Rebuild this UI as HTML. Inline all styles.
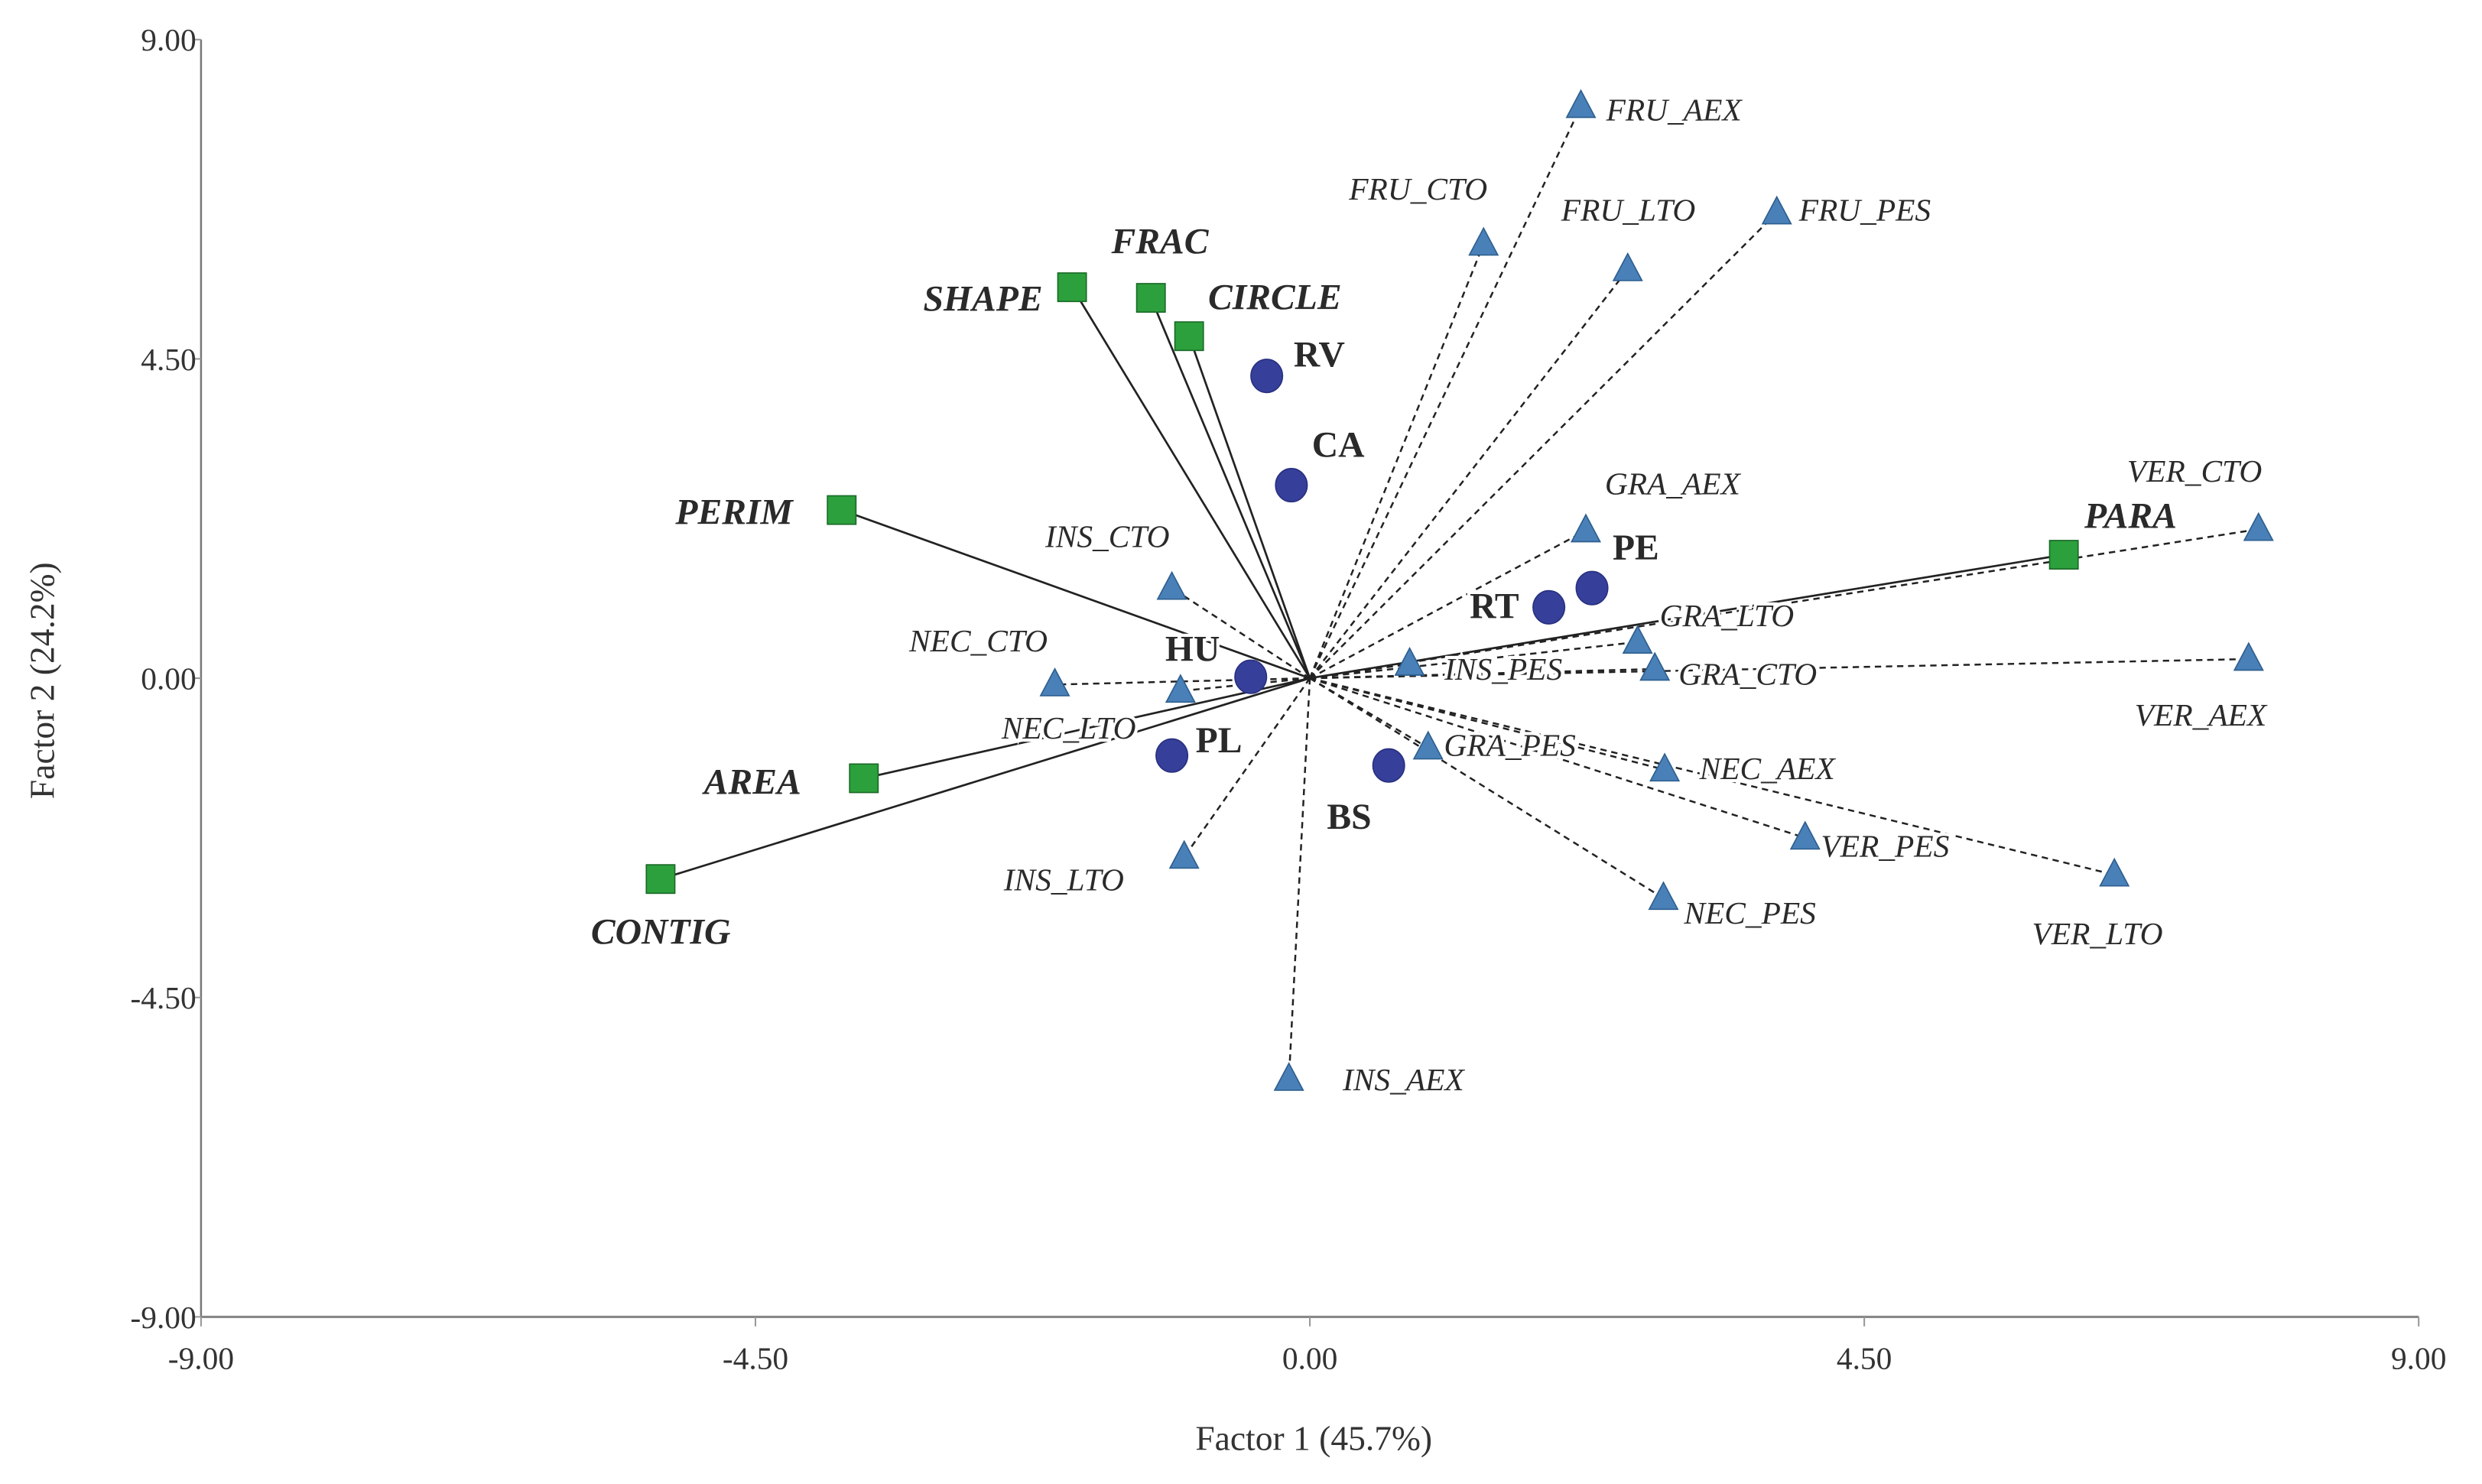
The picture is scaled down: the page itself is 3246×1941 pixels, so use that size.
<!DOCTYPE html>
<html><head><meta charset="utf-8"><title>Factor biplot</title>
<style>
html,body{margin:0;padding:0;background:#fff;}
svg{display:block;}
text{font-family:"Liberation Serif","DejaVu Serif",serif;}
</style></head>
<body>
<svg id="chart" width="3246" height="1941" viewBox="0 0 1568 937.6" preserveAspectRatio="none" xmlns="http://www.w3.org/2000/svg">
<g id="axes"></g>
<g id="lines"></g>
<g id="marks"></g>
<g id="labels"></g>
</svg>
<script>
const tickValues = [-9, -4.5, 0, 4.5, 9];
const tickLabels = ["-9.00", "-4.50", "0.00", "4.50", "9.00"];

const triNames = ["FRU_AEX","FRU_CTO","FRU_LTO","FRU_PES","GRA_AEX","VER_CTO","GRA_LTO","INS_CTO","INS_PES","GRA_CTO","VER_AEX","NEC_CTO","NEC_LTO","GRA_PES","NEC_AEX","VER_PES","VER_LTO","NEC_PES","INS_LTO","INS_AEX"];
const triX = [2.20,1.41,2.58,3.79,2.24,7.70,2.66,-1.12,0.81,2.80,7.62,-2.07,-1.05,0.96,2.88,4.02,6.53,2.87,-1.02,-0.17];
const triY = [8.06,6.12,5.76,6.56,2.08,2.10,0.51,1.27,0.20,0.13,0.27,-0.09,-0.18,-0.98,-1.29,-2.25,-2.77,-3.10,-2.52,-5.65];

const cirNames = ["RV","CA","PE","RT","HU","PL","BS"];
const cirX = [-0.35,-0.15,2.29,1.94,-0.48,-1.12,0.64];
const cirY = [4.26,2.72,1.27,1.00,0.02,-1.09,-1.23];

const sqNames = ["SHAPE","FRAC","CIRCLE","PERIM","PARA","AREA","CONTIG"];
const sqX = [-1.93,-1.29,-0.98,-3.80,6.12,-3.62,-5.27];
const sqY = [5.51,5.36,4.82,2.37,1.74,-1.41,-2.83];

// label offsets (layout, px in viewBox units)
const triLab = [[16,9],[-85,-28],[-42,-31],[14,5],[12,-23],[-83,-30],[14,-10],[-80,-26],[22,10],[15,10],[-72,42],[-92,-21],[-113,30],[10,5],[22,6],[10,12],[-52,44],[13,16],[-114,21],[34,7]];
const cirLab = [[17,-6],[13,-18],[13,-18],[-50,7],[-54,-10],[15,-2],[-39,40]];
const sqLab = [[-94,15],[-25,-28],[12,-17],[-105,9],[13,-17],[-101,10],[-44,41]];

const NS="http://www.w3.org/2000/svg";
const X0=127, X1=1528, Y0=832, Y1=25;
function sx(v){return X0+(v+9)/18*(X1-X0);}
function sy(v){return Y0-(v+9)/18*(Y0-Y1);}
function mk(tag,attrs,parent){const e=document.createElementNS(NS,tag);for(const k in attrs)e.setAttribute(k,attrs[k]);parent.appendChild(e);return e;}

const axes=document.getElementById('axes');
const lines=document.getElementById('lines');
const marks=document.getElementById('marks');
const labels=document.getElementById('labels');

let ya=mk('line',{x1:X0,y1:Y1,x2:X0,y2:Y0,stroke:'#777','stroke-width':1.2},axes);


let xa=mk('line',{x1:X0,y1:Y0,x2:X1,y2:Y0,stroke:'#888','stroke-width':1.5},axes);


tickValues.forEach((v,i)=>{
  let t1=mk('line',{x1:sx(v),y1:Y0,x2:sx(v),y2:Y0+6,stroke:'#999','stroke-width':1},axes);
  
  
  let l1=mk('text',{x:sx(v),y:Y0+33,'text-anchor':'middle','font-size':20,fill:'#333'},axes);
  l1.textContent=tickLabels[i];
  
  
  let t2=mk('line',{x1:X0-4,y1:sy(v),x2:X0,y2:sy(v),stroke:'#999','stroke-width':1},axes);
  
  
  let l2=mk('text',{x:X0-3,y:sy(v)+7,'text-anchor':'end','font-size':20,fill:'#333'},axes);
  l2.textContent=tickLabels[i];
  
  
});
let xt=mk('text',{x:830,y:916,'text-anchor':'middle','font-size':22,fill:'#333'},axes);
xt.textContent='Factor 1 (45.7%)';


let yt=mk('text',{x:0,y:0,'text-anchor':'middle','font-size':22,fill:'#333',transform:'translate(34,430) rotate(-90)'},axes);
yt.textContent='Factor 2 (24.2%)';



const ox=sx(0), oy=sy(0);
triX.forEach((v,i)=>{
  let l=mk('line',{x1:ox,y1:oy,x2:sx(v),y2:sy(triY[i]),stroke:'#222','stroke-width':1.2,'stroke-dasharray':'4,3'},lines);
  
  
});
sqX.forEach((v,i)=>{
  let l=mk('line',{x1:ox,y1:oy,x2:sx(v),y2:sy(sqY[i]),stroke:'#222','stroke-width':1.3},lines);
  
  
});

function addLabel(txt,x,y,size,style,weight){
  let t=mk('text',{x:x,y:y,'font-size':size,'font-style':style,'font-weight':weight,fill:'#2a2a2a',stroke:'#fff','stroke-width':4,'paint-order':'stroke'},labels);
  t.textContent=txt;
  
  
}

triX.forEach((v,i)=>{
  const x=sx(v), y=sy(triY[i]);
  let p=mk('polygon',{points:`${x},${y-10} ${x-9},${y+7} ${x+9},${y+7}`,fill:'#4a80b8',stroke:'#2d5f8f','stroke-width':0.8},marks);
  
  
  addLabel(triNames[i],x+triLab[i][0],y+triLab[i][1],20,'italic','normal');
});
cirX.forEach((v,i)=>{
  const x=sx(v), y=sy(cirY[i]);
  let c=mk('ellipse',{cx:x,cy:y,rx:10,ry:10.5,fill:'#36409a',stroke:'#283080','stroke-width':0.8},marks);
  
  
  addLabel(cirNames[i],x+cirLab[i][0],y+cirLab[i][1],23,'normal','bold');
});
sqX.forEach((v,i)=>{
  const x=sx(v), y=sy(sqY[i]);
  let r=mk('rect',{x:x-9,y:y-9,width:18,height:18,fill:'#2ca03c',stroke:'#1a6a28','stroke-width':0.8},marks);
  
  
  addLabel(sqNames[i],x+sqLab[i][0],y+sqLab[i][1],23,'italic','bold');
});
</script>
</body></html>
